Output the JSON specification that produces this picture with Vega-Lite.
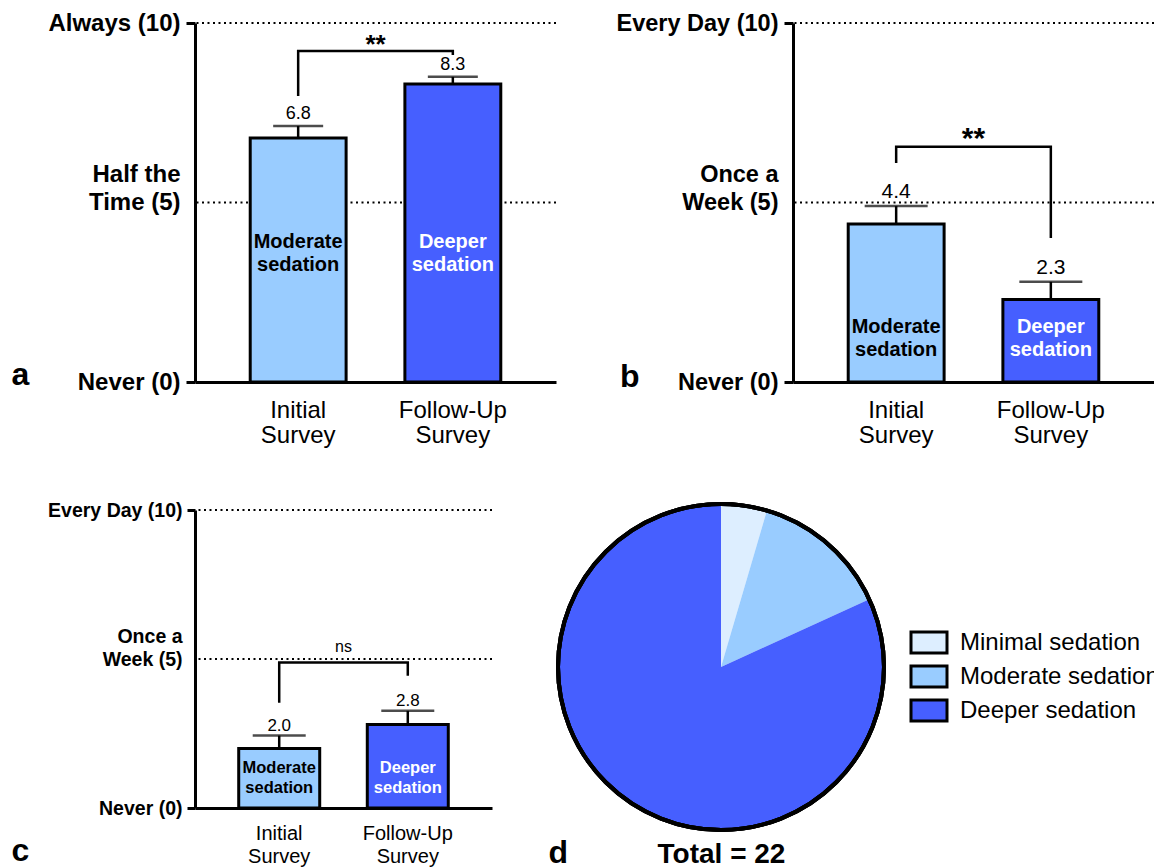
{
  "$schema": "https://vega.github.io/schema/vega-lite/v6.json",
  "background": "white",
  "padding": {"left": 11, "top": 11, "right": 0, "bottom": 0},
  "config": {
    "font": "Liberation Sans",
    "view": {"stroke": null},
    "axis": {"grid": false, "domainColor": "black", "tickColor": "black", "labelColor": "black", "titleColor": "black", "labelFont": "Liberation Sans", "titleFont": "Liberation Sans"},
    "text": {"font": "Liberation Sans", "color": "black"}
  },
  "spacing": 49,
  "resolve": {"scale": {"color": "independent"}, "legend": {"color": "independent", "fill": "independent"}},
  "vconcat": [
    {
      "bounds": "flush",
      "spacing": 237,
      "hconcat": [
        {
          "width": 361,
          "height": 359,
          "data": {"values": [
            {"survey": "Initial Survey", "group": "Moderate sedation", "mean": 6.8, "hi": 7.13},
            {"survey": "Follow-Up Survey", "group": "Deeper sedation", "mean": 8.3, "hi": 8.5}
          ]},
          "layer": [
            {
              "data": {"values": [{"ref": 5}, {"ref": 10}]},
              "mark": {"type": "rule", "color": "black", "strokeWidth": 2.2, "strokeDash": [2, 3.5]},
              "encoding": {
                "y": {"field": "ref", "type": "quantitative", "scale": {"domain": [0, 10], "nice": false},
                  "axis": {"title": "a", "values": [0, 5, 10],
                    "labelExpr": "datum.value == 10 ? 'Always (10)' : datum.value == 5 ? ['Half the', 'Time (5)'] : 'Never (0)'",
                    "labelOffset": {"condition": {"test": "datum.value == 5", "value": -28}, "value": 0},
                    "labelFontSize": 24, "labelFontWeight": "bold", "labelLineHeight": 28, "labelPadding": 6,
                    "tickSize": 9, "tickWidth": 3, "domainWidth": 3,
                    "tickOpacity": {"condition": {"test": "datum.value == 5", "value": 0}, "value": 1},
                    "titleAngle": 0, "titleX": -184, "titleY": 361, "titleAlign": "left", "titleBaseline": "alphabetic", "titleFontSize": 32, "titleFontWeight": "bold"}}
              }
            },
            {
              "mark": {"type": "bar", "stroke": "black", "strokeWidth": 3},
              "encoding": {
                "x": {"field": "survey", "type": "nominal", "sort": ["Initial Survey", "Follow-Up Survey"],
                  "scale": {"paddingInner": 0.38, "paddingOuter": 0.357},
                  "axis": {"title": null, "ticks": false, "labelAngle": 0, "labelExpr": "split(datum.label, ' ')", "labelFontSize": 24, "labelLineHeight": 25, "labelPadding": 16, "labelBaseline": "top", "domainWidth": 3}},
                "y": {"field": "mean", "type": "quantitative", "scale": {"domain": [0, 10], "nice": false}},
                "fill": {"field": "group", "type": "nominal", "scale": {"domain": ["Minimal sedation", "Moderate sedation", "Deeper sedation"], "range": ["#DDEEFF", "#99CCFF", "#465FFF"]}, "legend": null}
              }
            },
            {
              "mark": {"type": "rule", "color": "black", "strokeWidth": 2.5},
              "encoding": {
                "x": {"field": "survey", "type": "nominal", "sort": ["Initial Survey", "Follow-Up Survey"]},
                "y": {"field": "mean", "type": "quantitative"},
                "y2": {"field": "hi"}
              }
            },
            {
              "mark": {"type": "tick", "color": "black", "size": 50, "thickness": 2.5},
              "encoding": {
                "x": {"field": "survey", "type": "nominal", "sort": ["Initial Survey", "Follow-Up Survey"]},
                "y": {"field": "hi", "type": "quantitative"}
              }
            },
            {
              "mark": {"type": "text", "baseline": "alphabetic", "dy": -7, "fontSize": 18},
              "encoding": {
                "x": {"field": "survey", "type": "nominal", "sort": ["Initial Survey", "Follow-Up Survey"]},
                "y": {"field": "hi", "type": "quantitative"},
                "text": {"field": "mean", "type": "quantitative", "format": ".1f"}
              }
            },
            {
              "mark": {"type": "text", "baseline": "middle", "fontSize": 20, "fontWeight": "bold", "lineHeight": 23, "lineBreak": " "},
              "encoding": {
                "x": {"field": "survey", "type": "nominal", "sort": ["Initial Survey", "Follow-Up Survey"]},
                "y": {"datum": 3.9},
                "text": {"field": "group", "type": "nominal"},
                "color": {"condition": {"test": "datum.group == 'Deeper sedation'", "value": "white"}, "value": "black"}
              }
            },
            {
              "data": {"values": [
                {"survey": "Initial Survey", "v": 7.97, "k": 1},
                {"survey": "Initial Survey", "v": 9.22, "k": 2},
                {"survey": "Follow-Up Survey", "v": 9.22, "k": 3},
                {"survey": "Follow-Up Survey", "v": 9.11, "k": 4}
              ]},
              "mark": {"type": "line", "color": "black", "strokeWidth": 2.5, "strokeJoin": "miter"},
              "encoding": {
                "x": {"field": "survey", "type": "nominal", "sort": ["Initial Survey", "Follow-Up Survey"]},
                "y": {"field": "v", "type": "quantitative"},
                "order": {"field": "k", "type": "quantitative"}
              }
            },
            {
              "data": {"values": [{"survey": "Initial Survey", "sig": "**", "v": 9.22}]},
              "mark": {"type": "text", "baseline": "alphabetic", "dy": 2, "fontSize": 26, "fontWeight": "bold"},
              "encoding": {
                "x": {"field": "survey", "type": "nominal", "sort": ["Initial Survey", "Follow-Up Survey"], "bandPosition": 1.3065},
                "y": {"field": "v", "type": "quantitative"},
                "text": {"field": "sig", "type": "nominal"}
              }
            }
          ]
        },
        {
          "width": 361,
          "height": 359,
          "data": {"values": [
            {"survey": "Initial Survey", "group": "Moderate sedation", "mean": 4.4, "hi": 4.9},
            {"survey": "Follow-Up Survey", "group": "Deeper sedation", "mean": 2.3, "hi": 2.79}
          ]},
          "layer": [
            {
              "data": {"values": [{"ref": 5}, {"ref": 10}]},
              "mark": {"type": "rule", "color": "black", "strokeWidth": 2.2, "strokeDash": [2, 3.5]},
              "encoding": {
                "y": {"field": "ref", "type": "quantitative", "scale": {"domain": [0, 10], "nice": false},
                  "axis": {"title": "b", "values": [0, 5, 10],
                    "labelExpr": "datum.value == 10 ? 'Every Day (10)' : datum.value == 5 ? ['Once a', 'Week (5)'] : 'Never (0)'",
                    "labelOffset": {"condition": {"test": "datum.value == 5", "value": -28}, "value": 0},
                    "labelFontSize": 23.5, "labelFontWeight": "bold", "labelLineHeight": 28, "labelPadding": 6,
                    "tickSize": 9, "tickWidth": 3, "domainWidth": 3,
                    "tickOpacity": {"condition": {"test": "datum.value == 5", "value": 0}, "value": 1},
                    "titleAngle": 0, "titleX": -173.5, "titleY": 363, "titleAlign": "left", "titleBaseline": "alphabetic", "titleFontSize": 32, "titleFontWeight": "bold"}}
              }
            },
            {
              "mark": {"type": "bar", "stroke": "black", "strokeWidth": 3},
              "encoding": {
                "x": {"field": "survey", "type": "nominal", "sort": ["Initial Survey", "Follow-Up Survey"],
                  "scale": {"paddingInner": 0.38, "paddingOuter": 0.357},
                  "axis": {"title": null, "ticks": false, "labelAngle": 0, "labelExpr": "split(datum.label, ' ')", "labelFontSize": 24, "labelLineHeight": 25, "labelPadding": 16, "labelBaseline": "top", "domainWidth": 3}},
                "y": {"field": "mean", "type": "quantitative", "scale": {"domain": [0, 10], "nice": false}},
                "fill": {"field": "group", "type": "nominal", "scale": {"domain": ["Minimal sedation", "Moderate sedation", "Deeper sedation"], "range": ["#DDEEFF", "#99CCFF", "#465FFF"]}, "legend": null}
              }
            },
            {
              "mark": {"type": "rule", "color": "black", "strokeWidth": 2.5},
              "encoding": {
                "x": {"field": "survey", "type": "nominal", "sort": ["Initial Survey", "Follow-Up Survey"]},
                "y": {"field": "mean", "type": "quantitative"},
                "y2": {"field": "hi"}
              }
            },
            {
              "mark": {"type": "tick", "color": "black", "size": 63, "thickness": 2.5},
              "encoding": {
                "x": {"field": "survey", "type": "nominal", "sort": ["Initial Survey", "Follow-Up Survey"]},
                "y": {"field": "hi", "type": "quantitative"}
              }
            },
            {
              "mark": {"type": "text", "baseline": "alphabetic", "dy": -8, "fontSize": 21},
              "encoding": {
                "x": {"field": "survey", "type": "nominal", "sort": ["Initial Survey", "Follow-Up Survey"]},
                "y": {"field": "hi", "type": "quantitative"},
                "text": {"field": "mean", "type": "quantitative", "format": ".1f"}
              }
            },
            {
              "mark": {"type": "text", "baseline": "middle", "fontSize": 20, "fontWeight": "bold", "lineHeight": 23, "lineBreak": " "},
              "encoding": {
                "x": {"field": "survey", "type": "nominal", "sort": ["Initial Survey", "Follow-Up Survey"]},
                "y": {"datum": 1.53},
                "text": {"field": "group", "type": "nominal"},
                "color": {"condition": {"test": "datum.group == 'Deeper sedation'", "value": "white"}, "value": "black"}
              }
            },
            {
              "data": {"values": [
                {"survey": "Initial Survey", "v": 6.1, "k": 1},
                {"survey": "Initial Survey", "v": 6.55, "k": 2},
                {"survey": "Follow-Up Survey", "v": 6.55, "k": 3},
                {"survey": "Follow-Up Survey", "v": 4.01, "k": 4}
              ]},
              "mark": {"type": "line", "color": "black", "strokeWidth": 2.5, "strokeJoin": "miter"},
              "encoding": {
                "x": {"field": "survey", "type": "nominal", "sort": ["Initial Survey", "Follow-Up Survey"]},
                "y": {"field": "v", "type": "quantitative"},
                "order": {"field": "k", "type": "quantitative"}
              }
            },
            {
              "data": {"values": [{"survey": "Initial Survey", "sig": "**", "v": 6.55}]},
              "mark": {"type": "text", "baseline": "alphabetic", "dy": 1, "fontSize": 30, "fontWeight": "bold"},
              "encoding": {
                "x": {"field": "survey", "type": "nominal", "sort": ["Initial Survey", "Follow-Up Survey"], "bandPosition": 1.3065},
                "y": {"field": "v", "type": "quantitative"},
                "text": {"field": "sig", "type": "nominal"}
              }
            }
          ]
        }
      ]
    },
    {
      "bounds": "flush",
      "spacing": 65,
      "resolve": {"scale": {"color": "independent"}, "legend": {"color": "independent", "fill": "independent"}},
      "hconcat": [
        {
          "width": 297,
          "height": 298,
          "data": {"values": [
            {"survey": "Initial Survey", "group": "Moderate sedation", "mean": 2.0, "hi": 2.43},
            {"survey": "Follow-Up Survey", "group": "Deeper sedation", "mean": 2.8, "hi": 3.26}
          ]},
          "layer": [
            {
              "data": {"values": [{"ref": 5}, {"ref": 10}]},
              "mark": {"type": "rule", "color": "black", "strokeWidth": 2, "strokeDash": [2, 3.5]},
              "encoding": {
                "y": {"field": "ref", "type": "quantitative", "scale": {"domain": [0, 10], "nice": false},
                  "axis": {"title": "c", "values": [0, 5, 10],
                    "labelExpr": "datum.value == 10 ? 'Every Day (10)' : datum.value == 5 ? ['Once a', 'Week (5)'] : 'Never (0)'",
                    "labelOffset": {"condition": {"test": "datum.value == 5", "value": -23}, "value": 0},
                    "labelFontSize": 19.5, "labelFontWeight": "bold", "labelLineHeight": 23, "labelPadding": 5,
                    "tickSize": 8, "tickWidth": 3, "domainWidth": 3,
                    "tickOpacity": {"condition": {"test": "datum.value == 5", "value": 0}, "value": 1},
                    "titleAngle": 0, "titleX": -184, "titleY": 350, "titleAlign": "left", "titleBaseline": "alphabetic", "titleFontSize": 32, "titleFontWeight": "bold"}}
              }
            },
            {
              "mark": {"type": "bar", "stroke": "black", "strokeWidth": 3},
              "encoding": {
                "x": {"field": "survey", "type": "nominal", "sort": ["Initial Survey", "Follow-Up Survey"],
                  "scale": {"paddingInner": 0.37, "paddingOuter": 0.34},
                  "axis": {"title": null, "ticks": false, "labelAngle": 0, "labelExpr": "split(datum.label, ' ')", "labelFontSize": 20, "labelLineHeight": 23, "labelPadding": 15, "labelBaseline": "top", "domainWidth": 3}},
                "y": {"field": "mean", "type": "quantitative", "scale": {"domain": [0, 10], "nice": false}},
                "fill": {"field": "group", "type": "nominal", "scale": {"domain": ["Minimal sedation", "Moderate sedation", "Deeper sedation"], "range": ["#DDEEFF", "#99CCFF", "#465FFF"]}, "legend": null}
              }
            },
            {
              "mark": {"type": "rule", "color": "black", "strokeWidth": 2.5},
              "encoding": {
                "x": {"field": "survey", "type": "nominal", "sort": ["Initial Survey", "Follow-Up Survey"]},
                "y": {"field": "mean", "type": "quantitative"},
                "y2": {"field": "hi"}
              }
            },
            {
              "mark": {"type": "tick", "color": "black", "size": 53, "thickness": 2.5},
              "encoding": {
                "x": {"field": "survey", "type": "nominal", "sort": ["Initial Survey", "Follow-Up Survey"]},
                "y": {"field": "hi", "type": "quantitative"}
              }
            },
            {
              "mark": {"type": "text", "baseline": "alphabetic", "dy": -5, "fontSize": 17},
              "encoding": {
                "x": {"field": "survey", "type": "nominal", "sort": ["Initial Survey", "Follow-Up Survey"]},
                "y": {"field": "hi", "type": "quantitative"},
                "text": {"field": "mean", "type": "quantitative", "format": ".1f"}
              }
            },
            {
              "mark": {"type": "text", "baseline": "middle", "fontSize": 16.5, "fontWeight": "bold", "lineHeight": 20, "lineBreak": " "},
              "encoding": {
                "x": {"field": "survey", "type": "nominal", "sort": ["Initial Survey", "Follow-Up Survey"]},
                "y": {"datum": 1.34},
                "text": {"field": "group", "type": "nominal"},
                "color": {"condition": {"test": "datum.group == 'Deeper sedation'", "value": "white"}, "value": "black"}
              }
            },
            {
              "data": {"values": [
                {"survey": "Initial Survey", "v": 3.53, "k": 1},
                {"survey": "Initial Survey", "v": 4.88, "k": 2},
                {"survey": "Follow-Up Survey", "v": 4.88, "k": 3},
                {"survey": "Follow-Up Survey", "v": 4.44, "k": 4}
              ]},
              "mark": {"type": "line", "color": "black", "strokeWidth": 2.5, "strokeJoin": "miter"},
              "encoding": {
                "x": {"field": "survey", "type": "nominal", "sort": ["Initial Survey", "Follow-Up Survey"]},
                "y": {"field": "v", "type": "quantitative"},
                "order": {"field": "k", "type": "quantitative"}
              }
            },
            {
              "data": {"values": [{"survey": "Initial Survey", "sig": "ns", "v": 4.88}]},
              "mark": {"type": "text", "baseline": "alphabetic", "dy": -11, "fontSize": 16},
              "encoding": {
                "x": {"field": "survey", "type": "nominal", "sort": ["Initial Survey", "Follow-Up Survey"], "bandPosition": 1.2937},
                "y": {"field": "v", "type": "quantitative"},
                "text": {"field": "sig", "type": "nominal"}
              }
            }
          ]
        },
        {
          "width": 328,
          "height": 314,
          "data": {"values": [
            {"group": "Minimal sedation", "n": 1},
            {"group": "Moderate sedation", "n": 3},
            {"group": "Deeper sedation", "n": 18}
          ]},
          "encoding": {
            "x": {"datum": 0, "type": "quantitative", "scale": {"domain": [-1, 1]},
              "axis": {"title": "Total = 22", "labels": false, "ticks": false, "domain": false, "grid": false, "titleFontSize": 28, "titleFontWeight": "bold", "titleY": 38, "titleBaseline": "alphabetic"}},
            "y": {"datum": 0, "type": "quantitative", "scale": {"domain": [-1, 1]},
              "axis": {"title": "d", "labels": false, "ticks": false, "domain": false, "grid": false, "titleAngle": 0, "titleX": -9, "titleY": 352, "titleAlign": "left", "titleBaseline": "alphabetic", "titleFontSize": 32, "titleFontWeight": "bold"}}
          },
          "layer": [
            {
              "mark": {"type": "arc", "radius": 163},
              "encoding": {
                "theta": {"field": "n", "type": "quantitative", "stack": true},
                "order": {"field": "n", "type": "quantitative", "sort": "ascending"},
                "color": {"field": "group", "type": "nominal",
                  "scale": {"domain": ["Minimal sedation", "Moderate sedation", "Deeper sedation"], "range": ["#DDEEFF", "#99CCFF", "#465FFF"]},
                  "legend": {"orient": "none", "legendX": 358.5, "legendY": 119, "title": null,
                    "symbolType": "M-1.5,-0.875H1.5V0.875H-1.5Z", "symbolSize": 576, "symbolStrokeColor": "black", "symbolStrokeWidth": 3, "symbolOpacity": 1,
                    "labelFontSize": 24, "labelFont": "Liberation Sans", "labelColor": "black", "labelOffset": 17.5, "rowPadding": 1, "labelLimit": 0}}
              }
            },
            {
              "mark": {"type": "arc", "radius": 163, "filled": false, "stroke": "black", "strokeWidth": 4, "theta": 0, "theta2": 6.2832}
            }
          ]
        }
      ]
    }
  ]
}
